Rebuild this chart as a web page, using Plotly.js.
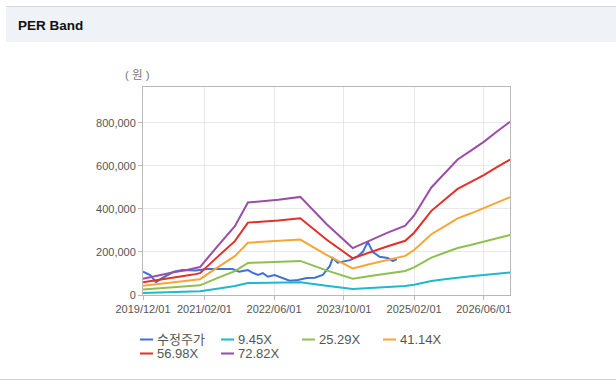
<!DOCTYPE html>
<html>
<head>
<meta charset="utf-8">
<script src="https://cdn.plot.ly/plotly-3.0.1.min.js"></script>
<style>
html,body{margin:0;padding:0;background:#fff;width:616px;height:385px;overflow:hidden;}
#topline{position:absolute;left:6px;top:6px;width:610px;height:1px;background:#d8d8d8;}
#band{position:absolute;left:6px;top:7px;width:610px;height:35px;background:#eff3f8;}
#botline{position:absolute;left:0;top:379px;width:616px;height:1px;background:#d0d0d0;}
#chart{position:absolute;left:0;top:0;width:616px;height:385px;}
</style>
</head>
<body>
<div id="topline"></div>
<div id="band"></div>
<div id="botline"></div>
<div id="chart"></div>
<script>
// ---- data ----
var priceDates = ['2019-12-01','2020-01-20','2020-03-01','2020-04-15','2020-07-01','2020-09-01','2020-12-01',
  '2021-02-20','2021-05-01','2021-08-15','2021-10-01','2021-12-01','2022-01-01','2022-02-10','2022-03-15',
  '2022-04-20','2022-06-05','2022-07-25','2022-09-18','2022-11-15','2023-01-15','2023-03-12','2023-05-06',
  '2023-06-25','2023-07-15','2023-08-18','2023-09-25','2023-11-12','2024-01-01','2024-02-10','2024-03-15',
  '2024-04-18','2024-06-05','2024-08-01','2024-09-05','2024-10-03'];
var price = [108000,93000,60000,80000,108000,116000,114000,
  121000,121000,121000,108000,116000,104000,93000,102000,
  85000,93000,79000,66000,70000,79000,80000,93000,
  135000,172000,150000,155000,162000,178000,201000,247000,
  201000,178000,172000,158000,167000];

var bandDates = ['2019-12-01','2020-04-01','2020-07-01','2020-10-01','2020-12-01','2021-01-01','2021-05-01',
  '2021-09-01','2021-12-01','2022-03-01','2022-07-01','2022-12-01','2023-06-01','2023-12-01','2024-04-01',
  '2024-08-01','2024-12-01','2025-02-01','2025-06-01','2025-09-01','2025-12-01','2026-03-01','2026-06-01',
  '2026-09-01','2026-12-01'];
var band945  = [9700,12100,13800,15100,16100,16900,29200,41500,55800,56500,57500,59200,42800,28300,33100,
  37600,41800,48000,64900,73300,81800,87000,92400,98600,104500];
var band2529 = [26000,32300,36800,40300,43100,45100,78100,111100,149300,151100,153900,158400,114600,75700,88600,
  100700,111800,128500,173700,196200,218800,232700,247300,263900,279600];
var band4114 = [42400,52500,59900,65500,70100,73500,127100,180800,243000,245800,250300,257600,186500,123200,144100,
  163900,181900,209100,282500,319200,356000,378600,402300,429400,454800];
var band5698 = [58700,72800,82900,90800,97000,101700,176100,250400,336500,340400,346600,356800,258200,170600,199500,
  226900,252000,289500,391300,442100,493000,524300,557100,594700,629900];
var band7282 = [75000,93000,106000,116000,124000,130000,225000,320000,430000,435000,443000,456000,330000,218000,255000,
  290000,322000,370000,500000,565000,630000,670000,712000,760000,805000];

var seriesNames = ['수정주가','9.45X','25.29X','41.14X','56.98X','72.82X'];
var tickVals = ['2019-12-01','2021-02-01','2022-06-01','2023-10-01','2025-02-01','2026-06-01'];
var tickText = ['2019/12/01','2021/02/01','2022/06/01','2023/10/01','2025/02/01','2026/06/01'];

// ---- styling ----
var colors = ['#3f72d6','#1fb8cc','#8fbf4f','#f7a634','#e0312b','#9a4ea6'];
var FONT = 'Liberation Sans, Arial, "Noto Sans CJK KR", sans-serif';

function tr(x, y, i, leg) {
  return {x: x, y: y, name: seriesNames[i], type: 'scatter', mode: 'lines',
    line: {color: colors[i], width: 2}, legend: leg, hoverinfo: 'x+y+name'};
}
var traces = [
  tr(priceDates, price, 0, 'legend'),
  tr(bandDates, band945, 1, 'legend'),
  tr(bandDates, band2529, 2, 'legend'),
  tr(bandDates, band4114, 3, 'legend'),
  tr(bandDates, band5698, 4, 'legend2'),
  tr(bandDates, band7282, 5, 'legend2')
];

var legendCommon = {orientation: 'h', xanchor: 'left', yanchor: 'top', entrywidth: 36,
  font: {family: FONT, size: 13, color: '#555'}, bgcolor: 'rgba(0,0,0,0)', traceorder: 'normal'};

var layout = {
  width: 616, height: 385,
  margin: {l: 143, r: 106, t: 87, b: 90, pad: 0},
  paper_bgcolor: 'rgba(0,0,0,0)',
  plot_bgcolor: '#ffffff',
  font: {family: FONT, size: 11, color: '#555'},
  title: {text: '<b>PER Band</b>', xref: 'container', yref: 'container', x: 18/616, xanchor: 'left',
    y: 1 - 25/385, yanchor: 'middle', font: {family: FONT, size: 13.5, color: '#111'}},
  xaxis: {type: 'date', range: ['2019-12-01','2026-12-01'], tickmode: 'array', tickvals: tickVals, ticktext: tickText,
    showgrid: true, gridcolor: '#e8e8e8', gridwidth: 1, showline: true, linecolor: '#b8b8b8', linewidth: 1, mirror: true,
    ticks: 'outside', ticklen: 4, tickcolor: '#b8b8b8', tickfont: {family: FONT, size: 11, color: '#555'}, zeroline: false,
    fixedrange: true},
  yaxis: {range: [0, 967000], tick0: 0, dtick: 200000, tickformat: ',d',
    showgrid: true, gridcolor: '#e8e8e8', gridwidth: 1, showline: true, linecolor: '#b8b8b8', linewidth: 1, mirror: true,
    ticks: 'outside', ticklen: 4, tickcolor: '#b8b8b8', tickfont: {family: FONT, size: 11, color: '#555'}, zeroline: false,
    fixedrange: true},
  legend: Object.assign({x: -0.0708, y: -0.1416}, legendCommon),
  legend2: Object.assign({x: -0.0708, y: -0.2088}, legendCommon),
  annotations: [{text: '( 원 )', xref: 'paper', yref: 'paper', x: -0.0163, y: 1.061, xanchor: 'center', yanchor: 'middle',
    showarrow: false, font: {family: FONT, size: 11.5, color: '#777'}}],
  showlegend: true
};

Plotly.newPlot('chart', traces, layout, {displayModeBar: false, staticPlot: true}).then(function () {
  // shorter legend glyphs, as in the reference
  document.querySelectorAll('#chart .legendlines path').forEach(function (p) {
    p.setAttribute('d', 'M23,0h13');
  });
});
</script>
</body>
</html>
